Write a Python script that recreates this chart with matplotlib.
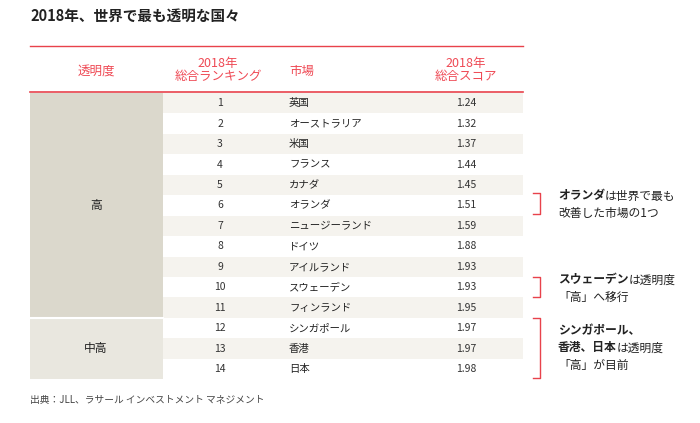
import matplotlib
matplotlib.use("Agg")
import matplotlib.pyplot as plt
from matplotlib.patches import Rectangle

plt.rcParams['font.family'] = ['Noto Sans CJK JP', 'DejaVu Sans']

ranks = list(range(1, 15))
markets = ["英国", "オーストラリア", "米国", "フランス", "カナダ", "オランダ", "ニュージーランド",
           "ドイツ", "アイルランド", "スウェーデン", "フィンランド", "シンガポール", "香港", "日本"]
scores = [1.24, 1.32, 1.37, 1.44, 1.45, 1.51, 1.59, 1.88, 1.93, 1.93, 1.95, 1.97, 1.97, 1.98]
tiers = [("高", 0, 11), ("中高", 11, 14)]

RED = "#e8424b"
fig = plt.figure(figsize=(7, 4.23), dpi=100)
ax = fig.add_axes([0, 0, 1, 1])
ax.set_xlim(0, 700); ax.set_ylim(423, 0); ax.axis("off")

ax.text(30, 16, "2018年、世界で最も透明な国々", fontsize=10.5, fontweight="bold", va="center", color="#222")
ax.plot([30, 523], [46, 46], color=RED, lw=1)
ax.plot([30, 523], [92, 92], color=RED, lw=1.2)
hc = "#ef4a55"
ax.text(96, 71, "透明度", fontsize=9, color=hc, ha="center", va="center")
ax.text(218, 70, "2018年\n総合ランキング", fontsize=9, color=hc, ha="center", va="center", linespacing=1.05)
ax.text(289, 71, "市場", fontsize=9, color=hc, ha="left", va="center")
ax.text(466, 70, "2018年\n総合スコア", fontsize=9, color=hc, ha="center", va="center", linespacing=1.05)

top = 93; rh = 20.45
for i in range(14):
    y0 = top + i * rh
    ax.add_patch(Rectangle((163, y0), 360, rh, color="#f5f3ee" if i % 2 == 0 else "white", lw=0))
    yc = y0 + rh / 2
    ax.text(220, yc, str(ranks[i]), fontsize=7.5, ha="center", va="center", color="#333")
    ax.text(289, yc, markets[i], fontsize=7.5, ha="left", va="center", color="#222")
    ax.text(466, yc, f"{scores[i]:.2f}", fontsize=7.5, ha="center", va="center", color="#333")
for name, a, b, col in [(tiers[0][0], tiers[0][1], tiers[0][2], "#dbd8cc"), (tiers[1][0], tiers[1][1], tiers[1][2], "#e9e7df")]:
    y0 = top + a * rh
    ax.add_patch(Rectangle((30, y0), 133, (b - a) * rh, color=col, lw=0))
    ax.text(96, y0 + (b - a) * rh / 2, name, fontsize=8.5, ha="center", va="center", color="#222")
ax.plot([30, 163], [top + 11 * rh] * 2, color="white", lw=1.5)

ax.text(30, 400, "出典：JLL、ラサール インベストメント マネジメント", fontsize=7, color="#444", va="center")

fig.canvas.draw()
r = fig.canvas.get_renderer()
def rich(x, y, parts):
    cx = x
    for txt, bold in parts:
        t = ax.text(cx, y, txt, fontsize=8.5, fontweight="bold" if bold else "normal",
                    color="#222", va="center", ha="left")
        bb = t.get_window_extent(r)
        cx += bb.width
def bracket(y1, y2):
    ax.plot([533, 540, 540, 533], [y1, y1, y2, y2], color=RED, lw=1)

bracket(193, 214)
rich(558, 196, [("オランダ", True), ("は世界で最も", False)])
rich(558, 213, [("改善した市場の1つ", False)])
bracket(277, 297)
rich(558, 280, [("スウェーデン", True), ("は透明度", False)])
rich(558, 297, [("「高」へ移行", False)])
bracket(318, 378)
rich(558, 331, [("シンガポール、", True)])
rich(558, 348, [("香港、日本", True), ("は透明度", False)])
rich(558, 365, [("「高」が目前", False)])

fig.savefig("out.png", dpi=100)
